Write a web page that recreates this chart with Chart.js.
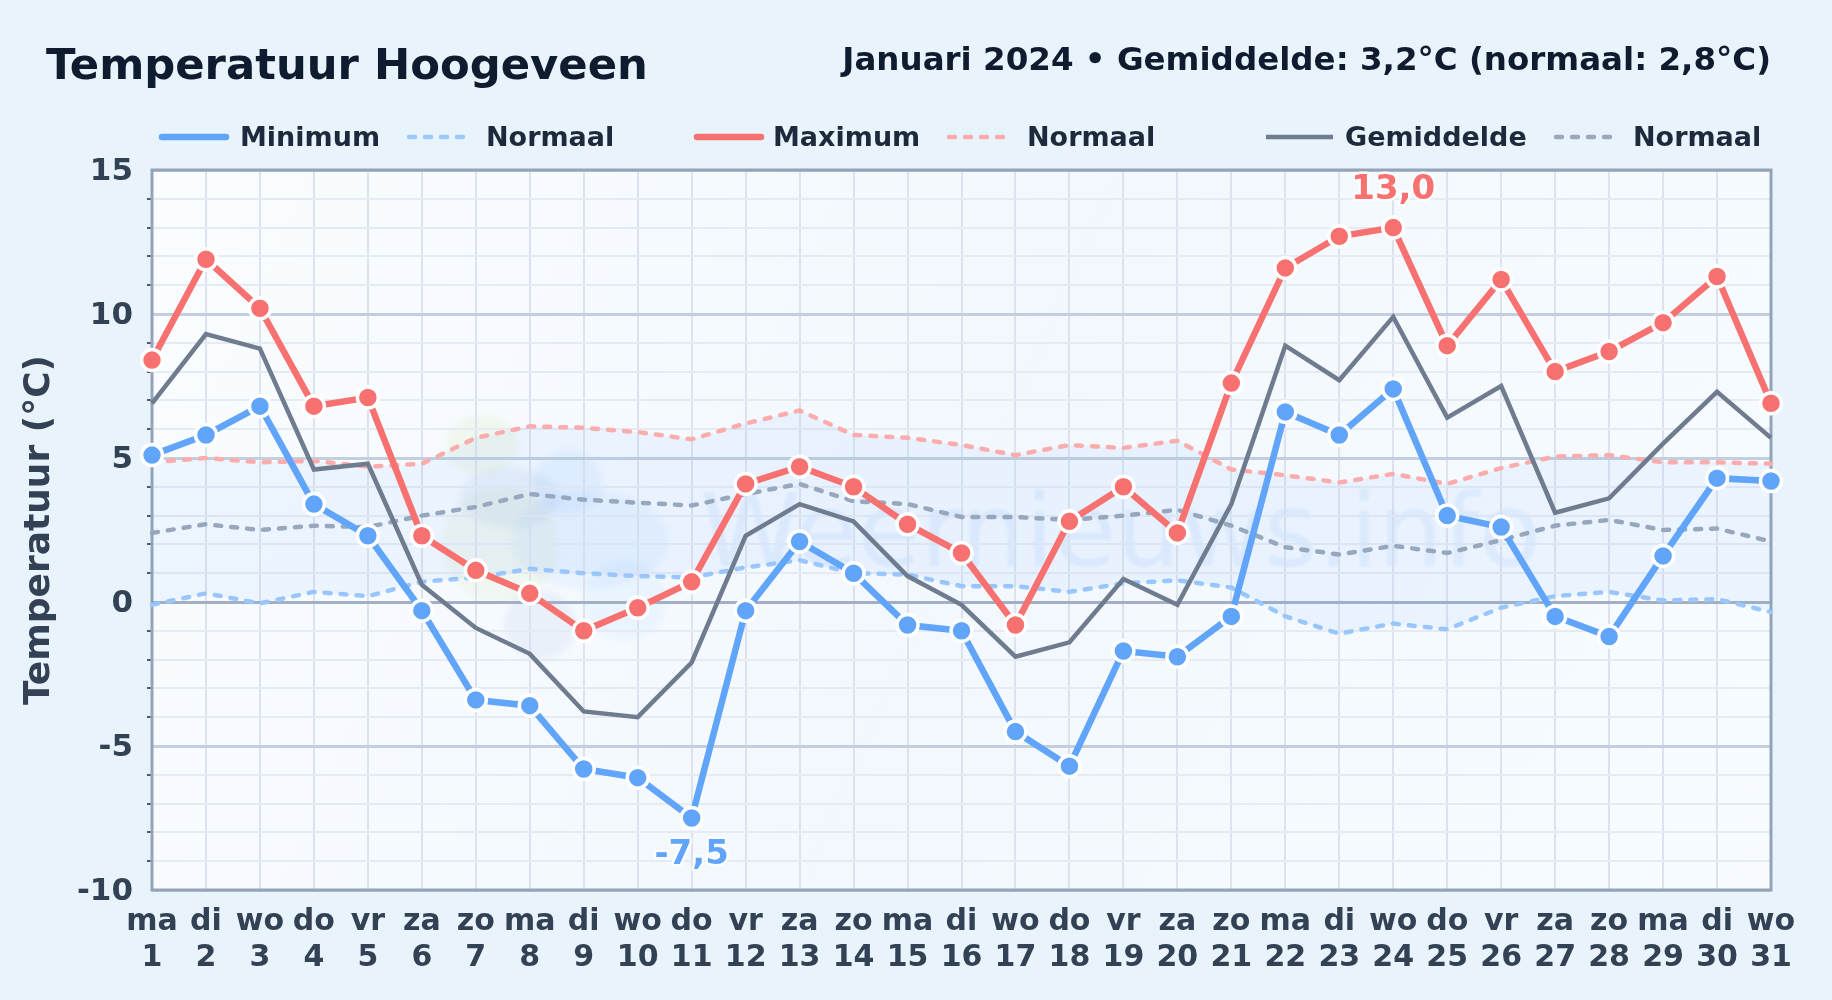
<!DOCTYPE html>
<html>
<head>
<meta charset="utf-8">
<title>Temperatuur Hoogeveen</title>
<script src="https://cdn.jsdelivr.net/npm/chart.js@4"></script>
<style>
  html, body { margin: 0; padding: 0; background: #e9f3fc; }
  #wrap { position: relative; width: 1832px; height: 1000px; font-family: "DejaVu Sans", sans-serif; font-weight: bold; color: #0f1b2e; }
  canvas { position: absolute; left: 0; top: 0; }
  #title { position: absolute; left: 46px; top: 39px; font-size: 43.3px; white-space: nowrap; }
  #subtitle { position: absolute; right: 61px; top: 40px; font-size: 32.5px; white-space: nowrap; }
</style>
</head>
<body>
<div id="wrap">
  <canvas id="chart" width="1832" height="1000"></canvas>
  <div id="title">Temperatuur Hoogeveen</div>
  <div id="subtitle">Januari 2024 • Gemiddelde: 3,2°C (normaal: 2,8°C)</div>
</div>
<script>
const weekdays = ["ma","di","wo","do","vr","za","zo","ma","di","wo","do","vr","za","zo","ma","di","wo","do","vr","za","zo","ma","di","wo","do","vr","za","zo","ma","di","wo"];
const days = ["1","2","3","4","5","6","7","8","9","10","11","12","13","14","15","16","17","18","19","20","21","22","23","24","25","26","27","28","29","30","31"];

const tempMax = [8.4,11.9,10.2,6.8,7.1,2.3,1.1,0.3,-1.0,-0.2,0.7,4.1,4.7,4.0,2.7,1.7,-0.8,2.8,4.0,2.4,7.6,11.6,12.7,13.0,8.9,11.2,8.0,8.7,9.7,11.3,6.9];
const tempMin = [5.1,5.8,6.8,3.4,2.3,-0.3,-3.4,-3.6,-5.8,-6.1,-7.5,-0.3,2.1,1.0,-0.8,-1.0,-4.5,-5.7,-1.7,-1.9,-0.5,6.6,5.8,7.4,3.0,2.6,-0.5,-1.2,1.6,4.3,4.2];
const tempMean = [6.9,9.3,8.8,4.6,4.8,0.6,-0.9,-1.8,-3.8,-4.0,-2.1,2.3,3.4,2.8,0.9,-0.1,-1.9,-1.4,0.8,-0.1,3.4,8.9,7.7,9.9,6.4,7.5,3.1,3.6,5.5,7.3,5.7];
const normalMax = [4.85,5.0,4.85,4.9,4.7,4.8,5.7,6.1,6.05,5.9,5.65,6.2,6.65,5.8,5.7,5.45,5.1,5.45,5.35,5.6,4.6,4.4,4.15,4.45,4.1,4.65,5.05,5.1,4.85,4.85,4.8];
const normalMin = [-0.1,0.3,-0.05,0.35,0.2,0.7,0.85,1.15,1.0,0.9,0.85,1.2,1.45,1.0,0.95,0.55,0.55,0.35,0.65,0.75,0.5,-0.5,-1.1,-0.75,-0.95,-0.2,0.2,0.35,0.05,0.1,-0.35];
const normalMean = [2.4,2.7,2.5,2.65,2.6,3.0,3.3,3.75,3.55,3.45,3.35,3.75,4.1,3.5,3.4,2.95,2.95,2.85,3.0,3.2,2.65,1.9,1.65,1.95,1.7,2.15,2.65,2.85,2.5,2.55,2.1];

const FONT = '"DejaVu Sans", sans-serif';
const INK = "#334155";

function solid(label, data, color, width, radius) {
  return {
    label, data, borderColor: color, backgroundColor: color, borderWidth: width,
    pointRadius: radius, pointBorderColor: "#ffffff", pointBorderWidth: 3.5, pointBackgroundColor: color,
    tension: 0, clip: false, fill: false
  };
}
function dashed(label, data, color) {
  return {
    label, data, borderColor: color, borderWidth: 4.5, borderDash: [6, 10], borderCapStyle: "round",
    pointRadius: 0, tension: 0, clip: false, fill: false
  };
}

// first dataset ends up on top
const datasets = [
  solid("Maximum", tempMax, "#f87171", 6.5, 10.5),
  solid("Minimum", tempMin, "#60a5fa", 6.5, 10.5),
  solid("Gemiddelde", tempMean, "#6f7c8f", 4.5, 0),
  dashed("Normaal", normalMax, "#fbadad"),
  dashed("Normaal", normalMin, "#9cc8fb"),
  dashed("Normaal", normalMean, "#9ca8b8")
];
datasets[3].fill = { target: 4, above: "rgba(96,165,250,0.08)", below: "rgba(96,165,250,0.08)" };

// legend order and x of sample / text
const legendItems = [
  { ds: 1, x: 162, w: 64, tx: 240 },
  { ds: 4, x: 409, w: 56, tx: 486 },
  { ds: 0, x: 697, w: 64, tx: 773 },
  { ds: 3, x: 949, w: 56, tx: 1027 },
  { ds: 2, x: 1266, w: 67, tx: 1345 },
  { ds: 5, x: 1556, w: 62, tx: 1633 }
];

const plotBack = {
  id: "plotBack",
  beforeDraw(chart) {
    const { ctx, chartArea: a } = chart;
    ctx.save();
    const g = ctx.createLinearGradient(a.left, a.top, a.right, a.bottom);
    g.addColorStop(0, "#fafdff");
    g.addColorStop(0.5, "#f3f8fe");
    g.addColorStop(1, "#f8fcff");
    ctx.fillStyle = g;
    ctx.fillRect(a.left, a.top, a.width, a.height);

    // watermark: blobs + site name
    ctx.beginPath();
    ctx.rect(a.left, a.top, a.width, a.height);
    ctx.clip();
    ctx.filter = "blur(3px)";
    const blobs = [
      [482, 445, 36, 30, "rgba(200,225,140,0.14)"],
      [500, 545, 58, 58, "rgba(200,225,140,0.12)"],
      [510, 498, 50, 30, "rgba(120,160,210,0.10)"],
      [568, 482, 34, 32, "rgba(96,165,250,0.09)"],
      [590, 540, 78, 50, "rgba(96,165,250,0.08)"],
      [540, 625, 36, 34, "rgba(120,160,210,0.10)"],
      [625, 600, 42, 40, "rgba(96,190,250,0.07)"]
    ];
    blobs.forEach(b => {
      ctx.fillStyle = b[4];
      ctx.beginPath();
      ctx.ellipse(b[0], b[1], b[2], b[3], 0, 0, Math.PI * 2);
      ctx.fill();
    });
    ctx.filter = "blur(1px)";
    ctx.fillStyle = "rgba(96,165,250,0.11)";
    ctx.font = "normal 102px " + FONT;
    ctx.textAlign = "left";
    ctx.textBaseline = "alphabetic";
    ctx.fillText("Weernieuws.info", 700, 566);
    ctx.restore();
  },
  beforeDatasetsDraw(chart) {
    const { ctx, chartArea: a } = chart;
    ctx.save();
    ctx.strokeStyle = "#94a3b8";
    ctx.lineWidth = 3;
    ctx.strokeRect(a.left, a.top, a.width, a.height);
    ctx.restore();
  }
};

const extremes = {
  id: "extremes",
  afterDatasetsDraw(chart) {
    const { ctx, scales: { x, y } } = chart;
    const hi = tempMax.indexOf(Math.max(...tempMax));
    const lo = tempMin.indexOf(Math.min(...tempMin));
    const labels = [
      [hi, tempMax[hi], "#f87171", -37],
      [lo, tempMin[lo], "#60a5fa", 37]
    ];
    ctx.save();
    ctx.font = "bold 34px " + FONT;
    ctx.textAlign = "center";
    ctx.textBaseline = "middle";
    ctx.lineJoin = "round";
    labels.forEach(([i, v, color, dy]) => {
      const txt = v.toFixed(1).replace(".", ",");
      const px = x.getPixelForValue(i), py = y.getPixelForValue(v) + dy;
      ctx.strokeStyle = "rgba(255,255,255,0.8)";
      ctx.lineWidth = 5;
      ctx.strokeText(txt, px, py);
      ctx.fillStyle = color;
      ctx.fillText(txt, px, py);
    });
    ctx.restore();
  }
};

const legendRow = {
  id: "legendRow",
  afterDraw(chart) {
    const { ctx } = chart;
    const ly = 137;
    ctx.save();
    ctx.font = "bold 27px " + FONT;
    ctx.textBaseline = "middle";
    ctx.textAlign = "left";
    legendItems.forEach(it => {
      const d = chart.data.datasets[it.ds];
      ctx.strokeStyle = d.borderColor;
      ctx.lineWidth = d.borderWidth;
      ctx.lineCap = d.label === "Gemiddelde" ? "butt" : "round";
      ctx.setLineDash(d.borderDash || []);
      ctx.beginPath();
      ctx.moveTo(it.x, ly);
      ctx.lineTo(it.x + it.w, ly);
      ctx.stroke();
      ctx.setLineDash([]);
      ctx.fillStyle = "#1e293b";
      ctx.fillText(d.label, it.tx, ly + 2);
    });
    ctx.restore();
  }
};

new Chart(document.getElementById("chart").getContext("2d"), {
  type: "line",
  data: {
    labels: weekdays.map((w, i) => [w, days[i]]),
    datasets
  },
  plugins: [plotBack, extremes, legendRow],
  options: {
    responsive: false,
    animation: false,
    devicePixelRatio: 1,
    layout: { padding: { top: 170, right: 61, left: 0, bottom: 0 } },
    plugins: {
      legend: { display: false },
      title: { display: false },
      tooltip: { enabled: false },
      filler: { propagate: false }
    },
    scales: {
      x: {
        offset: false,
        afterFit(s) { s.height = 110; },
        border: { display: false },
        grid: { color: "#dde3ee", lineWidth: 2, drawTicks: false },
        ticks: {
          color: INK, autoSkip: false, maxRotation: 0, minRotation: 0, padding: 14,
          font: { family: FONT, weight: "bold", size: 30 }
        }
      },
      y: {
        min: -10,
        max: 15,
        afterFit(s) { s.width = 152; },
        border: { display: false },
        grid: {
          tickLength: 5,
          tickColor: c => (c.tick.value % 5 === 0 ? "transparent" : "#1e293b"),
          tickWidth: 1.5,
          color: c => (c.tick.value === 0 ? "#a3b0c4" : c.tick.value % 5 === 0 ? "#c3cfdf" : "#e6ebf3"),
          lineWidth: c => (c.tick.value % 5 === 0 ? 3 : 2)
        },
        ticks: {
          stepSize: 1, autoSkip: false, color: INK, padding: 14, labelOffset: 2,
          font: { family: FONT, weight: "bold", size: 31 },
          callback: v => (v % 5 === 0 ? String(v) : "")
        },
        title: {
          display: true, text: "Temperatuur (°C)", color: INK, padding: { top: 18, bottom: 0 },
          font: { family: FONT, weight: "bold", size: 36 }
        }
      }
    }
  }
});
</script>
</body>
</html>
